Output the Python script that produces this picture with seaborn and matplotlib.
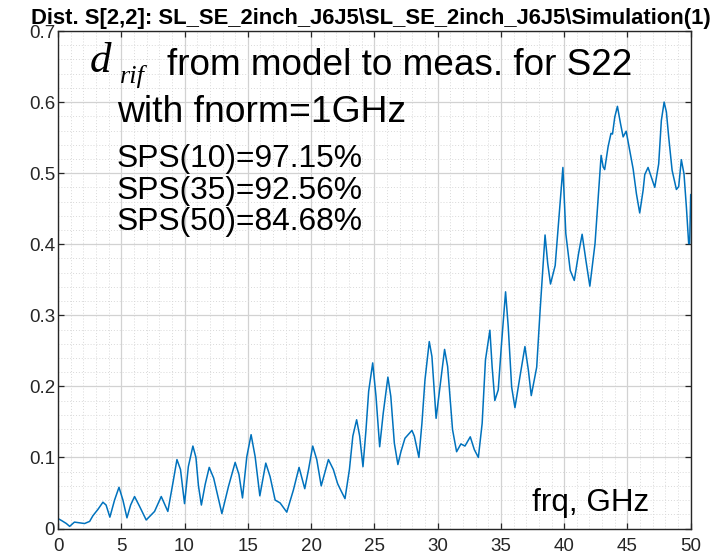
import matplotlib
matplotlib.use("Agg")
import matplotlib.pyplot as plt
import seaborn as sns
import pandas as pd
from matplotlib.ticker import MultipleLocator, FuncFormatter

# ---- data ----
freq_ghz = [
    0.0, 0.3, 0.66, 0.92, 1.3, 1.7, 2.1, 2.5, 2.76, 3.16, 3.55, 3.8, 4.1, 4.47, 4.82,
    5.13, 5.45, 5.74, 6.05, 6.45, 6.97, 7.63, 8.16, 8.68, 9.08, 9.4, 9.68, 10.0, 10.3,
    10.66, 10.9, 11.1, 11.33, 11.63, 11.95, 12.3, 12.95, 13.47, 14.0, 14.3, 14.58, 14.92,
    15.26, 15.58, 15.95, 16.42, 16.76, 17.16, 17.55, 18.08, 18.6, 19.05, 19.5, 19.8,
    20.13, 20.45, 20.8, 21.37, 21.76, 22.1, 22.37, 22.68, 23.03, 23.3, 23.6, 23.84, 24.1,
    24.34, 24.55, 24.87, 25.13, 25.42, 25.7, 26.07, 26.3, 26.58, 26.86, 27.1, 27.42,
    27.97, 28.16, 28.52, 28.76, 29.0, 29.34, 29.55, 29.88, 30.13, 30.55, 30.79, 31.18,
    31.5, 31.84, 32.16, 32.58, 32.9, 33.22, 33.52, 33.78, 34.13, 34.31, 34.52, 34.79,
    35.05, 35.37, 35.58, 35.85, 36.11, 36.5, 36.9, 37.17, 37.4, 37.83, 38.1, 38.49,
    38.7, 38.92, 39.29, 39.63, 39.9, 40.13, 40.48, 40.8, 41.14, 41.42, 41.72, 42.03,
    42.44, 42.68, 42.92, 43.08, 43.2, 43.47, 43.7, 43.82, 44.0, 44.21, 44.45, 44.66,
    44.9, 45.18, 45.45, 45.71, 45.97, 46.24, 46.37, 46.63, 46.84, 47.16, 47.47, 47.68,
    47.9, 48.08, 48.26, 48.53, 48.87, 49.05, 49.26, 49.47, 49.66, 49.84, 49.92, 50.0,
]
d_rif = [
    0.014, 0.011, 0.007, 0.003, 0.009, 0.008, 0.007, 0.010, 0.018, 0.027, 0.037, 0.033,
    0.016, 0.040, 0.058, 0.040, 0.015, 0.033, 0.045, 0.031, 0.012, 0.024, 0.045, 0.024,
    0.064, 0.097, 0.083, 0.035, 0.087, 0.116, 0.100, 0.060, 0.033, 0.062, 0.086, 0.071,
    0.021, 0.059, 0.093, 0.076, 0.043, 0.101, 0.132, 0.101, 0.046, 0.092, 0.073, 0.040,
    0.036, 0.023, 0.054, 0.086, 0.056, 0.083, 0.116, 0.097, 0.060, 0.097, 0.083, 0.063,
    0.053, 0.042, 0.083, 0.130, 0.153, 0.130, 0.087, 0.139, 0.193, 0.233, 0.186, 0.115,
    0.162, 0.213, 0.186, 0.120, 0.090, 0.108, 0.127, 0.138, 0.130, 0.100, 0.148, 0.209,
    0.263, 0.242, 0.155, 0.191, 0.252, 0.228, 0.139, 0.108, 0.119, 0.116, 0.129, 0.111,
    0.100, 0.148, 0.237, 0.279, 0.227, 0.180, 0.195, 0.260, 0.333, 0.284, 0.199, 0.170,
    0.213, 0.256, 0.223, 0.187, 0.227, 0.307, 0.413, 0.373, 0.344, 0.370, 0.448, 0.508,
    0.415, 0.363, 0.349, 0.387, 0.414, 0.377, 0.341, 0.401, 0.462, 0.525, 0.509, 0.505,
    0.537, 0.556, 0.555, 0.579, 0.594, 0.570, 0.551, 0.559, 0.532, 0.506, 0.471, 0.444,
    0.476, 0.498, 0.508, 0.497, 0.480, 0.513, 0.574, 0.600, 0.586, 0.551, 0.504, 0.477,
    0.481, 0.519, 0.499, 0.452, 0.401, 0.401, 0.470,
]
x_ticks = [0, 5, 10, 15, 20, 25, 30, 35, 40, 45, 50]
y_ticks = [0, 0.1, 0.2, 0.3, 0.4, 0.5, 0.6, 0.7]
title_text = r"Dist. S[2,2]: SL_SE_2inch_J6J5\SL_SE_2inch_J6J5\Simulation(1)"
line1_text = "from model to meas. for S22"
line2_text = "with fnorm=1GHz"
sps_lines = ["SPS(10)=97.15%", "SPS(35)=92.56%", "SPS(50)=84.68%"]
xlabel_text = "frq, GHz"

df = pd.DataFrame({"frq": freq_ghz, "d": d_rif})

sns.set_theme(style="white")
plt.rcParams["font.family"] = ["Liberation Sans", "DejaVu Sans"]

W, H = 710, 560
fig = plt.figure(figsize=(W / 100, H / 100), dpi=100)
L, R, T, B = 58.0, 690.7, 31.0, 528.5
ax = fig.add_axes([L / W, 1 - B / H, (R - L) / W, (B - T) / H])

sns.lineplot(data=df, x="frq", y="d", ax=ax, color="#0072BD", linewidth=1.1,
             estimator=None, sort=False)

ax.set_xlim(0, 50)
ax.set_ylim(0, 0.7)
ax.set_xticks(x_ticks)
ax.set_yticks(y_ticks)
ax.xaxis.set_minor_locator(MultipleLocator(1))
ax.yaxis.set_minor_locator(MultipleLocator(0.02))
ax.yaxis.set_major_formatter(FuncFormatter(lambda v, p: f"{v:g}"))
ax.set_xlabel("")
ax.set_ylabel("")

ax.grid(which="major", color="#d2d2d2", linewidth=0.9, linestyle="-")
ax.grid(which="minor", color="#d9d9d9", linewidth=0.7, linestyle=(0, (1, 2)))
ax.set_axisbelow(True)

for s in ax.spines.values():
    s.set_visible(True)
    s.set_color("#262626")
    s.set_linewidth(1.0)

ax.tick_params(which="major", direction="in", length=4.5, width=0.9,
               top=True, right=True, bottom=True, left=True,
               colors="#262626", labelsize=13.5, labelcolor="#262626")
ax.tick_params(axis="x", which="major", pad=7)
ax.tick_params(axis="y", which="major", pad=2)
ax.tick_params(which="minor", length=0)

# title centred slightly left of the axes centre, as in the reference
fig.text(370.5 / W, 1 - 24 / H, title_text, ha="center", va="baseline",
         fontsize=15.8, fontweight="bold", color="black")

def ftxt(px, py, s, **kw):
    fig.text(px / W, 1 - py / H, s, va="baseline", ha="left", color="black", **kw)

ftxt(90, 72, "d", family=["Liberation Serif"], style="italic", fontsize=31)
ftxt(120, 83, "rif", family=["Liberation Serif"], style="italic", fontsize=19)
ftxt(167, 75, line1_text, fontsize=26.6)
ftxt(117, 121.5, line2_text, fontsize=26.8)
for i, s in enumerate(sps_lines):
    ftxt(117, 167.3 + i * 31.3, s, fontsize=22.9)
ftxt(531.5, 511.5, xlabel_text, fontsize=22.6)

fig.savefig("out.png", dpi=100)
